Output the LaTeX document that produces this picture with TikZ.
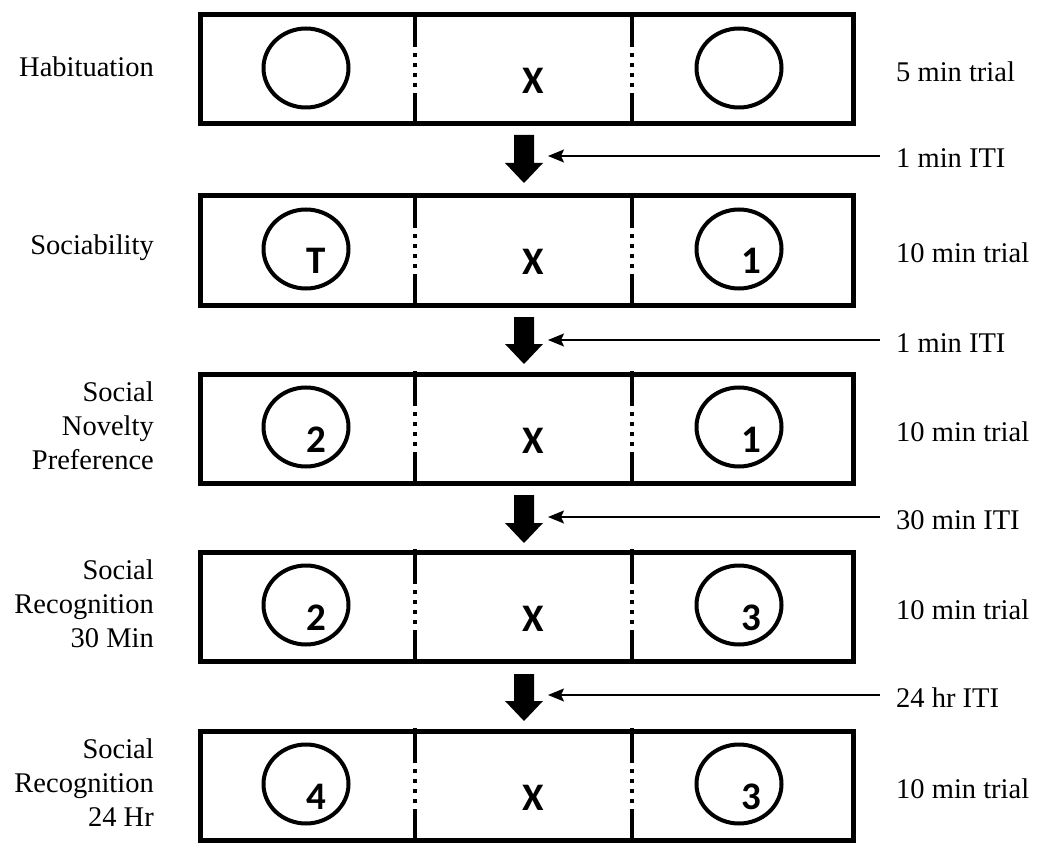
\documentclass[tikz,border=0pt]{standalone}
\usepackage{fontspec}
\setmainfont{Liberation Serif}
\newfontfamily\timesf{Liberation Serif}
\newfontfamily\carl{Carlito}
\usetikzlibrary{arrows.meta,shapes.geometric}
\tikzset{
  box/.style={draw,line width=5pt,minimum width=653pt,minimum height=109pt,inner sep=0pt,anchor=north west},
  div/.style={line width=3.5pt},
  ring/.style={draw,ellipse,line width=4pt,minimum width=85pt,minimum height=79pt,inner sep=0pt},
  glyph/.style={font=\carl\bfseries\fontsize{39}{39}\selectfont,inner sep=0pt,anchor=base},
  lab/.style={font=\timesf\fontsize{28.5}{34}\selectfont,inner sep=0pt},
  iti/.style={line width=1.5pt,-{Stealth[length=16pt,width=13pt,inset=3pt]},shorten <=16pt,shorten >=14pt},
}
\newcommand\stagebox[6]{%
  \node[box] (b#1) at (198,#2+2.5) {};
  \foreach \dx in {415,632}{
    \draw[div] (\dx,#2+2) -- (\dx,#2+37);
    \draw[div,dash pattern=on 4pt off 6pt] (\dx,#2+43) -- (\dx,#2+79);
    \draw[div] (\dx,#2+83) -- (\dx,#2+112);
  }
  \node[ring] (l#1) at (306,#2+58) {};
  \node[ring] (r#1) at (739,#2+58) {};
  \node[glyph] (x#1) at (533,#2+84) {X};
  \node[glyph] (ln#1) at (316,#2+83) {#4};
  \node[glyph] (rn#1) at (751,#2+83) {#5};
  \node[lab,align=right,anchor=east] (s#1) at (154,#2+57) {#3};
  \node[lab,anchor=base west] (d#1) at (896,#2+72) {#6};
}
\newcommand\thickarr[5]{%
  \fill (514,#2) -- (534,#2) -- (534,#3-20) -- (543,#3-20) -- (524,#3)
        -- (505,#3-20) -- (514,#3-20) -- cycle;
  \coordinate (a#1) at (534,#4);
  \node[lab,anchor=base west] (t#1) at (896,#4+12) {#5};
  \draw[iti] (a#1 -| t#1.west) -- (a#1);
}
\begin{document}
\begin{tikzpicture}[x=1pt,y=-1pt]
\useasboundingbox (0,0) rectangle (1041,850);
\stagebox{1}{10}{Habituation}{}{}{5 min trial}
\stagebox{2}{191}{Sociability}{T}{1}{10 min trial}
\stagebox{3}{369}{Social\\Novelty\\Preference}{2}{1}{10 min trial}
\stagebox{4}{547}{Social\\Recognition\\30 Min}{2}{3}{10 min trial}
\stagebox{5}{726}{Social\\Recognition\\24 Hr}{4}{3}{10 min trial}
\thickarr{1}{135}{183}{156}{1 min ITI}
\thickarr{2}{317}{364}{340}{1 min ITI}
\thickarr{3}{495}{543}{517}{30 min ITI}
\thickarr{4}{674}{721}{695}{24 hr ITI}
\end{tikzpicture}
\end{document}
